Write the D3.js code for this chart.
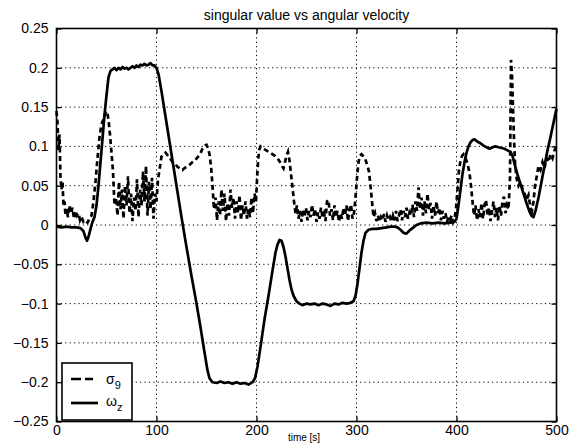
<!DOCTYPE html>
<html><head><meta charset="utf-8">
<script src="https://cdn.jsdelivr.net/npm/d3@7"></script>
<style>
html,body{margin:0;padding:0;background:#fff;}
svg{display:block;}
text{font-family:"Liberation Sans",Arial,Helvetica,sans-serif;fill:#000;}
</style></head>
<body><svg id="c" width="575" height="447"></svg>
<script>
// ---- data ----
const title = "singular value vs angular velocity";
const xLabel = "time [s]";
const xTicks = [0, 100, 200, 300, 400, 500];
const yTicks = [-0.25, -0.2, -0.15, -0.1, -0.05, 0, 0.05, 0.1, 0.15, 0.2, 0.25];

// sigma_9 (dashed)
const sigmaT = [0,1,2,3,4,5,6,7,8,9,10,11.5,13,14.5,16,17.5,19,20.5,22,23.5,25,27,29,31,33,35,37,39,41,43,45,47,49,50.5,52,53.5,55,56.5,58,59.5,61,62.5,64,65.5,67,68.5,70,71.5,73,74.5,76,77.5,79,80.5,82,83.5,85,86.5,88,89.5,91,92.5,94,95.5,97,98.5,100,101.5,103,105,107,109,111,113.5,116,118.5,121,123.5,126,128.5,131,133.5,136,138.5,141,143.5,146,148.5,150,151.5,153,154.5,156,157.5,159,160.5,162,163.5,165,166.5,168,169.5,171,172.5,174,175.5,177,178.5,180,181.5,183,184.5,186,187.5,189,190.5,192,193.5,195,196.5,198,199.5,201,202.5,204,206,208.5,211,213.5,216,218.5,221,223.5,225.5,227,228.5,230,231.5,233,234.5,236,237.5,239,240.5,242,243.5,245,246.5,248,249.5,251,252.5,254,255.5,257,258.5,260,261.5,263,264.5,266,267.5,269,270.5,272,273.5,275,276.5,278,279.5,281,282.5,284,285.5,287,288.5,290,291.5,293,294.5,296,297.5,299,300.5,302,303.5,305,306.5,308.5,310.5,312.5,314,315.5,317,318.5,320,321.5,323,324.5,326,327.5,329,330.5,332,333.5,335,336.5,338,339.5,341,342.5,344,345.5,347,348.5,350,351.5,353,354.5,356,357.5,359,360.5,362,363.5,365,366.5,368,369.5,371,372.5,374,375.5,377,378.5,380,381.5,383,384.5,386,387.5,389,390.5,392,393.5,395,396.5,398,399.5,401,402.5,404,405.5,407,408.5,410,411.5,413,414.5,416,417.5,419,420.5,422,423.5,425,426.5,428,429.5,431,432.5,434,435.5,437,438.5,440,441.5,443,444.5,446,447.5,449,450.5,452,453.5,454.5,455.5,456.5,457.5,458.5,460,462,464,466,468,470,472,474,475.5,477,478.5,480,482,484,486,488,490,492,494,496,498,500];
const sigmaV = [0.145,0.13,0.095,0.115,0.06,0.045,0.055,0.025,0.03,0.012,0.02,0.01,0.025,0.015,0.022,0.008,0.018,0.012,0.015,0.006,0.01,0.004,0.006,0.003,0.008,0.012,0.03,0.055,0.085,0.112,0.128,0.135,0.143,0.145,0.134,0.115,0.092,0.068,0.025,0.035,0.012,0.055,0.02,0.045,0.008,0.05,0.025,0.062,0.015,0.04,0.005,0.035,0.018,0.058,0.01,0.045,0.025,0.068,0.03,0.075,0.012,0.055,0.02,0.06,0.008,0.04,0.03,0.058,0.07,0.087,0.09,0.092,0.089,0.085,0.08,0.078,0.074,0.072,0.07,0.073,0.074,0.077,0.08,0.082,0.086,0.09,0.097,0.101,0.102,0.098,0.09,0.075,0.05,0.02,0.035,0.006,0.03,0.012,0.045,0.018,0.04,0.005,0.028,0.012,0.045,0.022,0.035,0.008,0.03,0.015,0.038,0.006,0.025,0.012,0.03,0.008,0.02,0.01,0.035,0.015,0.04,0.03,0.07,0.095,0.1,0.098,0.096,0.094,0.092,0.09,0.088,0.085,0.08,0.075,0.072,0.08,0.088,0.093,0.082,0.065,0.048,0.03,0.015,0.025,0.008,0.018,0.004,0.02,0.01,0.022,0.006,0.018,0.01,0.026,0.012,0.02,0.004,0.016,0.008,0.022,0.01,0.015,0.005,0.03,0.032,0.012,0.02,0.006,0.025,0.01,0.018,0.004,0.015,0.008,0.022,0.012,0.025,0.005,0.02,0.026,0.008,0.015,0.035,0.06,0.08,0.088,0.09,0.088,0.085,0.077,0.068,0.05,0.03,0.01,0.015,0.005,0.012,0.004,0.01,0.006,0.014,0.004,0.012,0.006,0.01,0.004,0.012,0.006,0.018,0.005,0.012,0.02,0.006,0.018,0.01,0.022,0.008,0.016,0.012,0.026,0.01,0.03,0.018,0.048,0.02,0.035,0.012,0.03,0.015,0.04,0.02,0.028,0.008,0.025,0.012,0.03,0.015,0.022,0.006,0.018,0.008,0.015,0.004,0.01,0.006,0.012,0.004,0.008,0.02,0.045,0.07,0.082,0.088,0.09,0.087,0.082,0.075,0.066,0.05,0.03,0.012,0.025,0.006,0.02,0.01,0.028,0.008,0.025,0.032,0.012,0.022,0.005,0.018,0.03,0.01,0.022,0.006,0.025,0.012,0.03,0.036,0.015,0.025,0.02,0.06,0.21,0.19,0.15,0.11,0.08,0.06,0.05,0.055,0.046,0.04,0.032,0.038,0.022,0.018,0.03,0.05,0.06,0.075,0.07,0.08,0.072,0.085,0.08,0.09,0.085,0.095,0.1];

// omega_z (solid)
const omegaT = [0,5,10,15,20,24,27,29,30.5,32,34,36,38,40,42,44,46,48,50,52,54,56,58,60,62,64,66,68,70,72,74,76,78,80,82,84,86,88,90,92,94,96,98,100,102,105,110,115,120,125,130,135,140,144,148,151,153,156,160,164,168,172,176,180,184,188,192,196,198.5,201,204,208,212,216,219,221,223,225,227,229,231,233,235,237,240,243,246,250,254,258,262,266,270,274,278,282,286,290,294,297,299,301,303,305,307,309,312,316,320,325,330,334,338,341,344,347,350,353,356,360,364,370,376,382,388,394,398,400,402,404,406,408,410,412,414,416,418,421,424,427,430,433,436,439,442,445,448,451,454,456,458,461,464,467,470,473,475,477,479,482,485,488,491,494,497,500];
const omegaV = [-0.002,-0.003,-0.002,-0.003,-0.003,-0.004,-0.008,-0.016,-0.02,-0.015,-0.005,0.004,0.01,0.025,0.05,0.08,0.11,0.14,0.165,0.188,0.196,0.198,0.2,0.197,0.2,0.198,0.201,0.199,0.2,0.198,0.2,0.202,0.2,0.203,0.201,0.204,0.203,0.205,0.203,0.204,0.206,0.203,0.203,0.2,0.192,0.17,0.13,0.09,0.05,0.01,-0.028,-0.065,-0.1,-0.13,-0.162,-0.185,-0.195,-0.2,-0.201,-0.199,-0.201,-0.2,-0.202,-0.2,-0.202,-0.201,-0.203,-0.2,-0.195,-0.18,-0.155,-0.12,-0.09,-0.058,-0.035,-0.025,-0.019,-0.02,-0.028,-0.04,-0.055,-0.07,-0.082,-0.09,-0.097,-0.1,-0.102,-0.1,-0.101,-0.1,-0.102,-0.1,-0.101,-0.103,-0.1,-0.101,-0.099,-0.1,-0.099,-0.097,-0.09,-0.075,-0.055,-0.035,-0.02,-0.01,-0.006,-0.005,-0.005,-0.004,-0.003,-0.002,-0.002,-0.003,-0.006,-0.01,-0.011,-0.007,-0.004,0.0,0.002,0.003,0.002,0.003,0.002,0.003,0.004,0.008,0.025,0.045,0.065,0.08,0.092,0.1,0.105,0.108,0.109,0.106,0.104,0.101,0.099,0.097,0.099,0.1,0.099,0.098,0.097,0.095,0.093,0.088,0.078,0.064,0.052,0.04,0.028,0.017,0.012,0.01,0.018,0.035,0.055,0.075,0.095,0.112,0.13,0.148];

const legendLabels = [{base:"σ", sub:"9", dashed:true}, {base:"ω", sub:"z", dashed:false}];

// ---- layout ----
const L = 56.5, R = 556.5, T = 28.5, B = 421.5;
const svg = d3.select("#c");
const x = d3.scaleLinear().domain([0, 500]).range([L, R]);
const y = d3.scaleLinear().domain([-0.25, 0.25]).range([B, T]);
const fmt = v => (v < 0 ? "\u2212" : "") + String(+Math.abs(v).toFixed(2));

// grid
const grid = svg.append("g").attr("stroke", "#000").attr("stroke-width", 1).attr("stroke-dasharray", "1.2,3.2");
grid.selectAll("line.vx").data(xTicks.slice(1, -1)).join("line")
  .attr("x1", d => x(d)).attr("x2", d => x(d)).attr("y1", T).attr("y2", B);
grid.selectAll("line.hy").data(yTicks.slice(1, -1)).join("line")
  .attr("x1", L).attr("x2", R).attr("y1", d => y(d)).attr("y2", d => y(d));

// data lines
const line = d3.line().x(d => x(d[0])).y(d => y(d[1])).curve(d3.curveLinear);
const sigmaData = sigmaT.map((t, i) => [t, sigmaV[i]]);
const omegaData = omegaT.map((t, i) => [t, omegaV[i]]);
svg.append("path").datum(omegaData).attr("d", line)
  .attr("fill", "none").attr("stroke", "#000").attr("stroke-width", 2.7).attr("stroke-linejoin", "round");
svg.append("path").datum(sigmaData).attr("d", line)
  .attr("fill", "none").attr("stroke", "#000").attr("stroke-width", 2.7).attr("stroke-dasharray", "5,3.5");

// axes (ticks inside on all sides)
const tl = 5;
svg.append("g").attr("transform", `translate(0,${B})`)
  .call(d3.axisBottom(x).tickValues(xTicks).tickSizeInner(-tl).tickSizeOuter(0).tickPadding(4).tickFormat(d3.format("d")))
  .call(g => g.select(".domain").remove())
  .call(g => g.selectAll("text").attr("font-size", 14).attr("font-family", "Liberation Sans"));
svg.append("g").attr("transform", `translate(0,${T})`)
  .call(d3.axisTop(x).tickValues(xTicks).tickSizeInner(-tl).tickSizeOuter(0).tickFormat(""))
  .call(g => g.select(".domain").remove());
svg.append("g").attr("transform", `translate(${L},0)`)
  .call(d3.axisLeft(y).tickValues(yTicks).tickSizeInner(-tl).tickSizeOuter(0).tickPadding(8).tickFormat(fmt))
  .call(g => g.select(".domain").remove())
  .call(g => g.selectAll("text").attr("font-size", 14).attr("font-family", "Liberation Sans"));
svg.append("g").attr("transform", `translate(${R},0)`)
  .call(d3.axisRight(y).tickValues(yTicks).tickSizeInner(-tl).tickSizeOuter(0).tickFormat(""))
  .call(g => g.select(".domain").remove());
svg.selectAll(".tick line").attr("stroke", "#000").attr("stroke-width", 1.3);

// frame
svg.append("rect").attr("x", L).attr("y", T).attr("width", R - L).attr("height", B - T)
  .attr("fill", "none").attr("stroke", "#000").attr("stroke-width", 1.6);

// title & x label
svg.append("text").attr("x", (L + R) / 2).attr("y", 20).attr("text-anchor", "middle")
  .attr("font-size", 14).text(title);
svg.append("text").attr("x", 304).attr("y", 441).attr("text-anchor", "middle")
  .attr("font-size", 10).text(xLabel);

// legend
const lg = svg.append("g");
lg.append("rect").attr("x", 62).attr("y", 363).attr("width", 70).attr("height", 57)
  .attr("fill", "#fff").attr("stroke", "#000").attr("stroke-width", 1.6);
legendLabels.forEach((d, i) => {
  const yy = d.dashed ? 379 : 403;
  lg.append("line").attr("x1", 71).attr("x2", d.dashed ? 93 : 98).attr("y1", yy).attr("y2", yy)
    .attr("stroke", "#000").attr("stroke-width", 2.7).attr("stroke-dasharray", d.dashed ? "10,4" : null);
  const t = lg.append("text").attr("x", 106).attr("y", d.dashed ? yy + 5 : yy + 3).attr("font-size", 14);
  t.append("tspan").text(d.base);
  t.append("tspan").attr("dy", 5).attr("font-size", 11).text(d.sub);
});
</script></body></html>
